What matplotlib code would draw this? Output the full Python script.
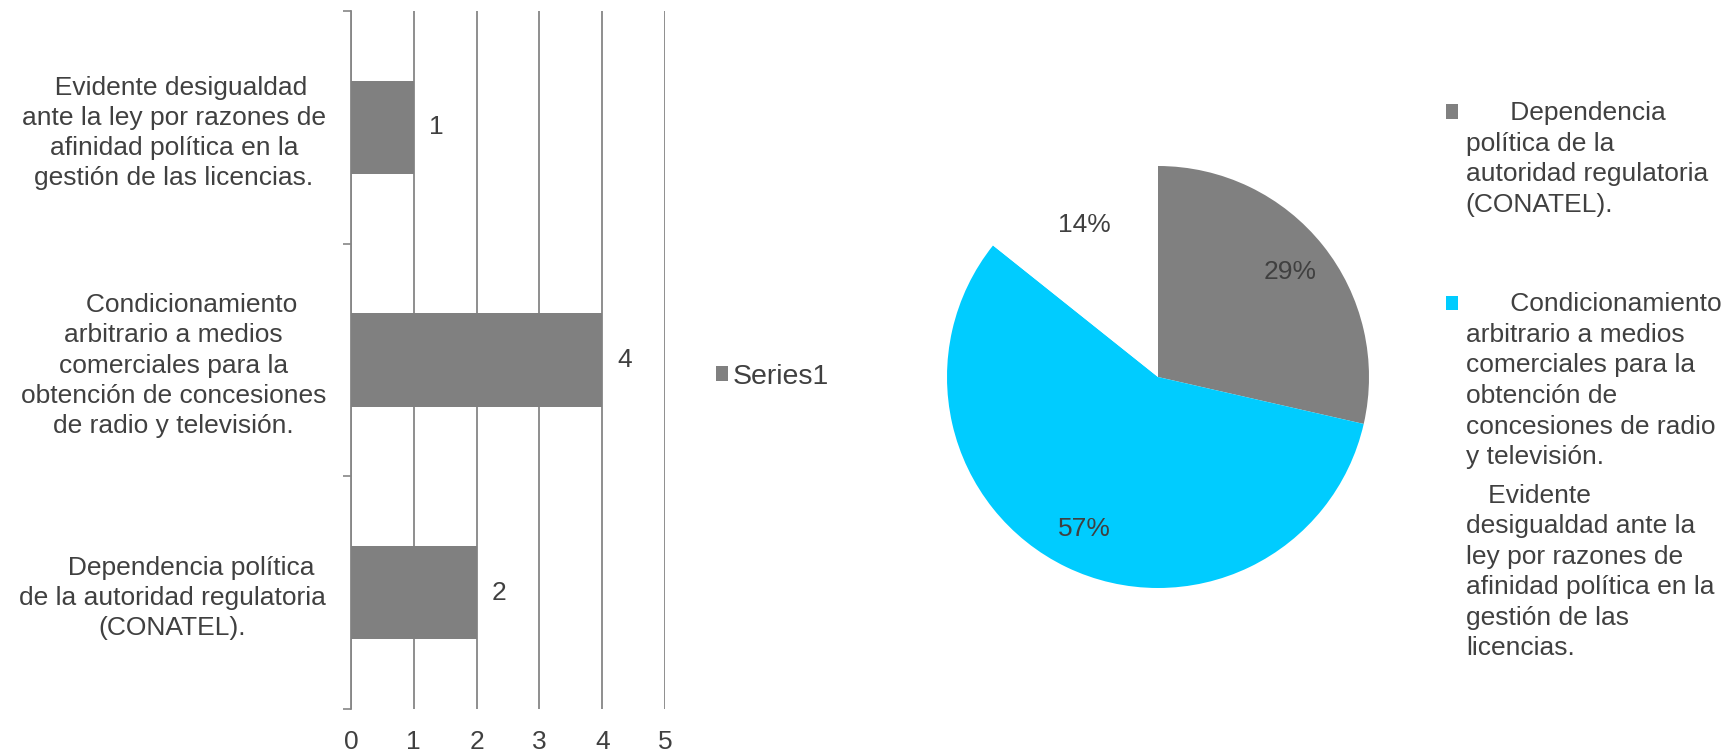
import matplotlib
matplotlib.use("Agg")
import matplotlib.pyplot as plt

plt.rcParams['font.family'] = ['Liberation Sans', 'DejaVu Sans']
plt.rcParams['text.color'] = '#404040'

# ---- data ----
categories = [
    "Dependencia política de la autoridad regulatoria (CONATEL).",
    "Condicionamiento arbitrario a medios comerciales para la obtención de concesiones de radio y televisión.",
    "Evidente desigualdad ante la ley por razones de afinidad política en la gestión de las licencias.",
]
bar_tick_labels = [
    "     Dependencia política\nde la autoridad regulatoria\n(CONATEL).",
    "     Condicionamiento\narbitrario a medios\ncomerciales para la\nobtención de concesiones\nde radio y televisión.",
    "  Evidente desigualdad\nante la ley por razones de\nafinidad política en la\ngestión de las licencias.",
]
pie_legend_labels = [
    "      Dependencia\npolítica de la\nautoridad regulatoria\n(CONATEL).\n\n",
    "      Condicionamiento\narbitrario a medios\ncomerciales para la\nobtención de\nconcesiones de radio\ny televisión.",
    "   Evidente\ndesigualdad ante la\nley por razones de\nafinidad política en la\ngestión de las\nlicencias.",
]
values = [2, 4, 1]
series_name = "Series1"
x_ticks = [0, 1, 2, 3, 4, 5]

bar_color = "#808080"
pie_colors = ["#808080", "#00CCFF", "#FFFFFF"]
grid_color = "#868686"
FS = 19
LS = 1.32

W, H = 1730, 754
fig = plt.figure(figsize=(W / 100, H / 100), dpi=100)

# ---- bar chart ----
axb = fig.add_axes([351 / W, 1 - 709 / H, 314 / W, 698 / H])
ypos = list(range(len(values)))
bars = axb.barh(ypos, values, height=0.4, color=bar_color, zorder=3, label=series_name)
axb.bar_label(bars, labels=[str(v) for v in values], padding=11, fontsize=FS, color='#404040')
axb.set_xlim(x_ticks[0], x_ticks[-1])
axb.set_ylim(-0.5, len(values) - 0.5)
axb.set_xticks(x_ticks)
axb.set_xticklabels([str(t) for t in x_ticks], fontsize=FS)
axb.tick_params(axis='x', length=0, pad=15, colors='#404040')
axb.set_yticks(ypos)
axb.set_yticklabels(bar_tick_labels, fontsize=FS, multialignment='center', linespacing=LS)
axb.set_yticks([i - 0.5 for i in range(len(values) + 1)], minor=True)
axb.tick_params(axis='y', which='major', length=0, pad=18, colors='#404040')
axb.tick_params(axis='y', which='minor', length=6, width=1.2, color=grid_color)
axb.grid(axis='x', color=grid_color, linewidth=1.3, zorder=0)
for s in ['top', 'right', 'bottom']:
    axb.spines[s].set_visible(False)
axb.spines['left'].set_color(grid_color)
axb.spines['left'].set_linewidth(1.3)

fig.legend(handles=[bars], labels=[series_name], loc='center left',
           bbox_to_anchor=(716 / W, 1 - 377 / H), frameon=False, fontsize=20.5,
           borderpad=0, borderaxespad=0, handlelength=0.42, handleheight=0.42,
           handletextpad=0.15)

# ---- pie chart ----
R = 211
cx, cy = 1158, 377
side = 2.5 * R
axp = fig.add_axes([(cx - side / 2) / W, (H - cy - side / 2) / H, side / W, side / H])
wedges, texts, autotexts = axp.pie(values, colors=pie_colors, startangle=90, counterclock=False,
                                   autopct='%1.0f%%', pctdistance=0.8,
                                   textprops=dict(fontsize=FS, color='#404040'),
                                   wedgeprops=dict(linewidth=0))
axp.set_aspect('equal')

leg = fig.legend(handles=wedges, labels=pie_legend_labels, loc='upper left',
                 bbox_to_anchor=(1446 / W, 1 - 101 / H), frameon=False, fontsize=FS,
                 borderpad=0, borderaxespad=0, handlelength=0.45, handleheight=0.45,
                 handletextpad=0.3, labelspacing=0.55)
for t in leg.get_texts():
    t.set_linespacing(1.345)
try:
    for col in leg._legend_handle_box.get_children():
        for row in col.get_children():
            row.align = 'top'
except Exception:
    pass
for h in leg.legend_handles:
    h.set_y(h.get_y() - 2.5)

fig.savefig("out.png", dpi=100)
